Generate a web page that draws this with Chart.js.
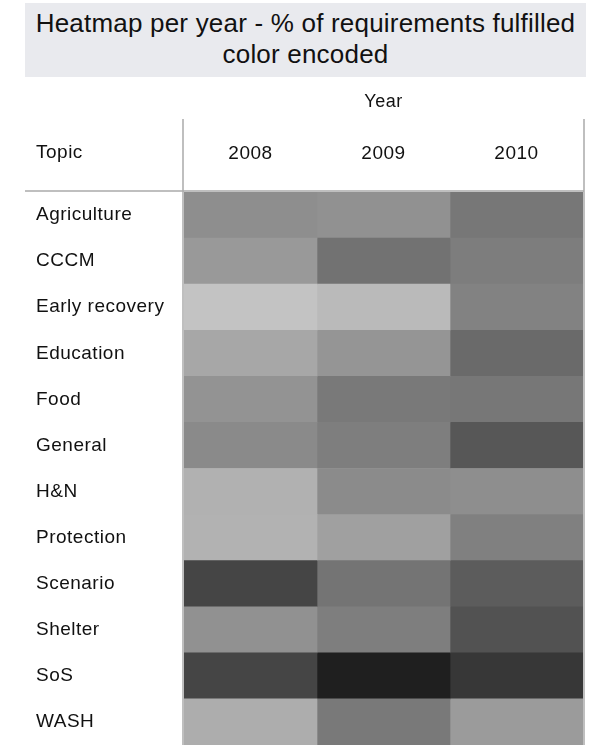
<!DOCTYPE html>
<html>
<head>
<meta charset="utf-8">
<script src="https://cdn.jsdelivr.net/npm/chart.js@4/dist/chart.umd.min.js"></script>
<style>
  body { margin: 0; background: #fff; }
  #wrap { position: relative; width: 595px; height: 745px; }
  #title {
    position: absolute; left: 25px; top: 3px; width: 561px; height: 74px;
    box-sizing: border-box; padding-top: 5px;
    background: #e9eaee; color: #111;
    font-family: "Liberation Sans", Arial, sans-serif; font-size: 26px;
    line-height: 31px; text-align: center; letter-spacing: 0.2px;
  }
</style>
</head>
<body>
<div id="wrap">
  <canvas id="heat" width="595" height="745"></canvas>
  <div id="title">Heatmap per year - % of requirements fulfilled<br>color encoded</div>
</div>
<script>
// Topics (rows) and years (columns)
const topics = ['Agriculture', 'CCCM', 'Early recovery', 'Education', 'Food', 'General',
    'H&N', 'Protection', 'Scenario', 'Shelter', 'SoS', 'WASH'];
const years = ['2008', '2009', '2010'];

// % of requirements fulfilled
const pct2008 = [55.7, 60.0, 76.5, 65.5, 57.6, 54.1, 69.4, 69.8, 27.1, 56.9, 27.1, 67.8];
const pct2009 = [56.9, 44.7, 72.9, 58.4, 47.5, 49.4, 54.5, 62.7, 45.5, 49.4, 12.2, 47.5];
const pct2010 = [46.7, 49.0, 51.0, 41.6, 46.7, 34.1, 55.7, 50.2, 36.1, 32.2, 21.6, 60.8];
const series = [pct2008, pct2009, pct2010];

const FONT = '"Liberation Sans", Arial, sans-serif';

// percentage -> grey level
function shade(v) {
    const g = Math.round(v * 2.55);
    return `rgb(${g},${g},${g})`;
}

// header text, frame lines
const framePlugin = {
    id: 'frame',
    beforeDraw(chart) {
        chart.ctx.letterSpacing = '0.5px';
    },
    afterDraw(chart) {
        const { ctx, chartArea } = chart;
        const y = chart.scales.y;
        ctx.save();
        ctx.strokeStyle = '#ababab';
        ctx.lineWidth = 1.5;
        ctx.beginPath();
        ctx.moveTo(chartArea.left - 1, 119);
        ctx.lineTo(chartArea.left - 1, chart.height);
        ctx.moveTo(chartArea.right + 1, 119);
        ctx.lineTo(chartArea.right + 1, chart.height);
        ctx.moveTo(25, chartArea.top - 1);
        ctx.lineTo(chartArea.right + 1, chartArea.top - 1);
        ctx.stroke();
        ctx.fillStyle = '#111';
        ctx.font = `19px ${FONT}`;
        ctx.textAlign = 'left';
        ctx.textBaseline = 'middle';
        ctx.fillText('Topic', y.left, 153);
        ctx.restore();
        ctx.letterSpacing = '0px';
    }
};

new Chart(document.getElementById('heat'), {
    type: 'bar',
    data: {
        labels: topics,
        datasets: series.map((vals, i) => ({
            label: years[i],
            data: vals.map(() => [i, i + 1]),
            backgroundColor: vals.map(shade),
            borderWidth: 0,
            grouped: false,
            categoryPercentage: 1,
            barPercentage: 1,
        })),
    },
    options: {
        indexAxis: 'y',
        responsive: false,
        animation: false,
        layout: { padding: { top: 80, left: 36, right: 12, bottom: 0 } },
        scales: {
            x: {
                type: 'linear',
                position: 'top',
                min: 0,
                max: 3,
                afterFit: s => { s.height = 112; s.paddingLeft = 0; s.paddingRight = 0; },
                afterBuildTicks: s => { s.ticks = years.map((_, i) => ({ value: i + 0.5 })); },
                ticks: {
                    padding: 27,
                    color: '#111',
                    font: { family: FONT, size: 19 },
                    callback: v => years[Math.floor(v)],
                },
                grid: { display: false, drawTicks: false },
                border: { display: false },
                title: {
                    display: true,
                    text: 'Year',
                    color: '#111',
                    font: { family: FONT, size: 18 },
                    padding: { top: 11, bottom: 0 },
                },
            },
            y: {
                afterFit: s => { s.width = 148; s.paddingTop = 0; s.paddingBottom = 0; },
                ticks: {
                    crossAlign: 'far',
                    color: '#111',
                    font: { family: FONT, size: 19 },
                },
                grid: { display: false, drawTicks: false },
                border: { display: false },
            },
        },
        plugins: {
            legend: { display: false },
            tooltip: { enabled: false },
        },
    },
    plugins: [framePlugin],
});
</script>
</body>
</html>
